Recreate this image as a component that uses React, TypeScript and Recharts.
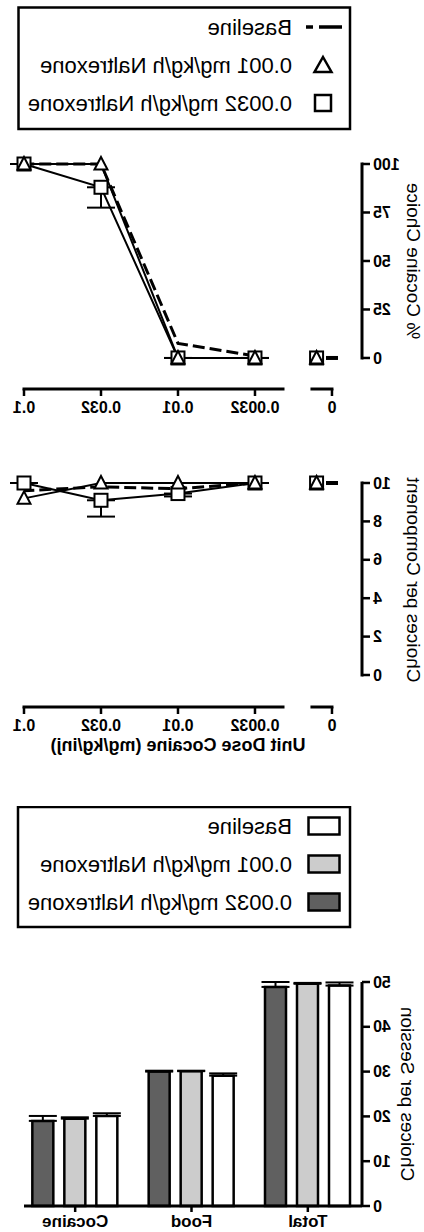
import React from 'react';
import { LineChart, Line, XAxis, YAxis, ReferenceLine, ErrorBar, BarChart, Bar } from 'recharts';

const FONT = '"Liberation Sans", Arial, Helvetica, sans-serif';

// ---------- data ----------
const doseLabels = ['0', '0.0032', '0.01', '0.032', '0.1'];
const seriesNames = ['Baseline', '0.001 mg/kg/h Naltrexone', '0.0032 mg/kg/h Naltrexone'];

// % Cocaine Choice
const pctBaseline = [0, 1, 7.5, 100, 100];
const pctNal001 = [0, 0, 0, 100, 100];
const pctNal0032 = [0, 0, 0, 88, 100];
const pctNal0032Err = [0, 0, 0, 10.5, 0];
const pctTicks = [0, 25, 50, 75, 100];

// Choices per Component
const cpcBaseline = [10, 10, 9.7, 9.8, 9.6];
const cpcNal001 = [10, 10, 10, 10, 9.2];
const cpcNal0032 = [10, 10, 9.45, 9.1, 10];
const cpcNal0032Err = [0, 0, 0.15, 0.85, 0];
const cpcTicks = [0, 2, 4, 6, 8, 10];

// Choices per Session
const barCategories = ['Total', 'Food', 'Cocaine'];
const barBaseline = [49.2, 29.1, 20.1];
const barBaselineErr = [0.7, 0.5, 0.6];
const barNal001 = [49.6, 30.1, 19.5];
const barNal001Err = [0.2, 0.1, 0.3];
const barNal0032 = [48.9, 30.0, 19.0];
const barNal0032Err = [1.1, 0.2, 1.1];
const barTicks = [0, 10, 20, 30, 40, 50];

const barFills = ['#ffffff', '#cccccc', '#606060'];

// ---------- helpers ----------
const doseIndex = doseLabels.map((_, i) => i);
const ZERO_NUDGE = 0.2;

function zeroPoint(values: number[], shift: number, errs?: number[]) {
  return [{ x: doseIndex[0] + shift, y: values[0], e: [errs ? errs[0] : 0, 0] }];
}
function restPoints(values: number[], errs?: number[]) {
  return values.slice(1).map((v, k) => ({ x: doseIndex[k + 1], y: v, e: [errs ? errs[k + 1] : 0, 0] }));
}

const SquareDot = (props: any) => {
  const { cx, cy, index } = props;
  if (cx == null || cy == null) return <g key={index} />;
  const s = 13;
  return <rect key={index} x={cx - s / 2} y={cy - s / 2} width={s} height={s} fill="#fff" stroke="#000" strokeWidth={2} />;
};
const TriangleDot = (props: any) => {
  const { cx, cy, index } = props;
  if (cx == null || cy == null) return <g key={index} />;
  const w = 13;
  const pts = `${cx},${cy - 7} ${cx - w / 2},${cy + 5.5} ${cx + w / 2},${cy + 5.5}`;
  return <polygon key={index} points={pts} fill="#fff" stroke="#000" strokeWidth={2} strokeLinejoin="miter" />;
};
const DashDot = (props: any) => {
  const { cx, cy, index } = props;
  if (cx == null || cy == null) return <g key={index} />;
  return <line key={index} x1={cx - 6} x2={cx + 6} y1={cy} y2={cy} stroke="#000" strokeWidth={4} />;
};

const X_MIN = -0.39;
const X_MAX = 4;
const BREAK_A = 0.26;
const BREAK_B = 0.636;

type DoseProps = {
  top: number;
  height: number;
  margin: any;
  xAxisHeight: number;
  yDomain: [number, number];
  yMax: number;
  yTicks: number[];
  yLabel: string;
  yLabelDy: number;
  base: number[];
  tri: number[];
  sq: number[];
  sqErr: number[];
  title?: string;
  titleOffset?: number;
};

function DoseChart(p: DoseProps) {
  const tickStyle = { fill: '#000', fontSize: 16, fontWeight: 700, fontFamily: FONT };
  const axisStroke = { stroke: '#000', strokeWidth: 3, strokeLinecap: 'square' as const };
  const yMin = p.yDomain[0];
  return (
    <div style={{ position: 'absolute', left: 0, top: p.top }}>
      <LineChart width={424} height={p.height} margin={p.margin}>
        <XAxis
          type="number"
          dataKey="x"
          domain={[X_MIN, X_MAX]}
          ticks={doseIndex}
          interval={0}
          tickFormatter={(v: number) => doseLabels[v] ?? ''}
          axisLine={false}
          tickLine={{ stroke: '#000', strokeWidth: 2.5 }}
          tickSize={7}
          tickMargin={6}
          height={p.xAxisHeight}
          tick={tickStyle}
          label={
            p.title
              ? {
                  value: p.title,
                  position: 'insideBottom',
                  offset: p.titleOffset,
                  dx: 15,
                  style: { fill: '#000', fontSize: 18, fontWeight: 700, fontFamily: FONT },
                }
              : undefined
          }
        />
        <YAxis
          type="number"
          domain={p.yDomain}
          ticks={p.yTicks}
          interval={0}
          axisLine={false}
          tickLine={{ stroke: '#000', strokeWidth: 2.5 }}
          tickSize={8}
          tickMargin={3}
          width={62}
          tick={tickStyle}
          label={{
            value: p.yLabel,
            angle: -90,
            position: 'insideLeft',
            offset: 10,
            dy: p.yLabelDy,
            style: { textAnchor: 'middle', fill: '#000', fontSize: 19, fontFamily: FONT },
          }}
        />
        <ReferenceLine segment={[{ x: X_MIN, y: 0 }, { x: X_MIN, y: p.yMax }]} ifOverflow="visible" {...axisStroke} />
        <ReferenceLine segment={[{ x: 0, y: yMin }, { x: BREAK_A, y: yMin }]} ifOverflow="visible" {...axisStroke} />
        <ReferenceLine segment={[{ x: BREAK_B, y: yMin }, { x: X_MAX, y: yMin }]} ifOverflow="visible" {...axisStroke} />

        <Line data={restPoints(p.base)} dataKey="y" name={seriesNames[0]} stroke="#000" strokeWidth={3} strokeDasharray="12 5" dot={false} activeDot={false} isAnimationActive={false} />
        <Line data={zeroPoint(p.base, 0)} dataKey="y" name={seriesNames[0] + ' 0'} stroke="none" dot={DashDot} activeDot={false} isAnimationActive={false} />

        <Line data={restPoints(p.sq, p.sqErr)} dataKey="y" name={seriesNames[2]} stroke="#000" strokeWidth={2} dot={SquareDot} activeDot={false} isAnimationActive={false}>
          <ErrorBar dataKey="e" direction="y" width={14} stroke="#000" strokeWidth={2} />
        </Line>
        <Line data={zeroPoint(p.sq, ZERO_NUDGE, p.sqErr)} dataKey="y" name={seriesNames[2] + ' 0'} stroke="none" dot={SquareDot} activeDot={false} isAnimationActive={false} />

        <Line data={restPoints(p.tri)} dataKey="y" name={seriesNames[1]} stroke="#000" strokeWidth={2} dot={TriangleDot} activeDot={false} isAnimationActive={false} />
        <Line data={zeroPoint(p.tri, ZERO_NUDGE)} dataKey="y" name={seriesNames[1] + ' 0'} stroke="none" dot={TriangleDot} activeDot={false} isAnimationActive={false} />
      </LineChart>
    </div>
  );
}

function LineLegend({ top }: { top: number }) {
  const rows = [27, 65, 103];
  return (
    <svg width={424} height={140} style={{ position: 'absolute', left: 0, top }}>
      <rect x={74} y={7.5} width={331.5} height={121.5} fill="#fff" stroke="#000" strokeWidth={2.5} />
      <line x1={82} x2={118} y1={rows[0]} y2={rows[0]} stroke="#000" strokeWidth={3.5} strokeDasharray="23 6 7 40" />
      <polygon points={`101,${rows[1] - 8} 92.5,${rows[1] + 7} 109.5,${rows[1] + 7}`} fill="#fff" stroke="#000" strokeWidth={2.5} />
      <rect x={93} y={rows[2] - 8} width={16} height={16} fill="#fff" stroke="#000" strokeWidth={2.5} />
      {seriesNames.map((n, i) => (
        <text key={n} x={132} y={rows[i]} dominantBaseline="central" fontSize={22} fontFamily={FONT} fill="#000">
          {n}
        </text>
      ))}
    </svg>
  );
}

function BarLegend({ top }: { top: number }) {
  const rows = [20, 58, 96];
  return (
    <svg width={424} height={125} style={{ position: 'absolute', left: 0, top }}>
      <rect x={74} y={1} width={332} height={120} fill="#fff" stroke="#000" strokeWidth={2.5} />
      {seriesNames.map((n, i) => (
        <g key={n}>
          <rect x={84.5} y={rows[i] - 8.5} width={31} height={17} fill={barFills[i]} stroke="#000" strokeWidth={2.5} />
          <text x={132} y={rows[i]} dominantBaseline="central" fontSize={22} fontFamily={FONT} fill="#000">
            {n}
          </text>
        </g>
      ))}
    </svg>
  );
}

const barData = barCategories.map((c, i) => ({
  cat: c,
  b: barBaseline[i],
  bE: [0, barBaselineErr[i]],
  n1: barNal001[i],
  n1E: [0, barNal001Err[i]],
  n2: barNal0032[i],
  n2E: [0, barNal0032Err[i]],
}));

function SessionBars({ top }: { top: number }) {
  const tickStyle = { fill: '#000', fontSize: 16, fontWeight: 700, fontFamily: FONT };
  return (
    <div style={{ position: 'absolute', left: 0, top }}>
      <BarChart width={424} height={292} data={barData} margin={{ top: 42, right: 24, bottom: 0, left: 0 }} barSize={21} barGap={11}>
        <XAxis
          dataKey="cat"
          axisLine={{ stroke: '#000', strokeWidth: 3 }}
          tickLine={{ stroke: '#000', strokeWidth: 2.5 }}
          tickSize={6}
          tickMargin={3}
          height={26}
          interval={0}
          padding={{ left: -4, right: -7 }}
          tick={{ fill: '#000', fontSize: 17, fontWeight: 700, fontFamily: FONT }}
        />
        <YAxis
          type="number"
          domain={[0, 50]}
          ticks={barTicks}
          interval={0}
          axisLine={{ stroke: '#000', strokeWidth: 3 }}
          tickLine={{ stroke: '#000', strokeWidth: 2.5 }}
          tickSize={8}
          tickMargin={3}
          width={62}
          tick={tickStyle}
          label={{
            value: 'Choices per Session',
            angle: -90,
            position: 'insideLeft',
            offset: 16,
            style: { textAnchor: 'middle', fill: '#000', fontSize: 19, fontFamily: FONT },
          }}
        />
        <Bar dataKey="b" name={seriesNames[0]} fill={barFills[0]} stroke="#000" strokeWidth={2.5} isAnimationActive={false}>
          <ErrorBar dataKey="bE" direction="y" width={14} stroke="#000" strokeWidth={2} />
        </Bar>
        <Bar dataKey="n1" name={seriesNames[1]} fill={barFills[1]} stroke="#000" strokeWidth={2.5} isAnimationActive={false}>
          <ErrorBar dataKey="n1E" direction="y" width={14} stroke="#000" strokeWidth={2} />
        </Bar>
        <Bar dataKey="n2" name={seriesNames[2]} fill={barFills[2]} stroke="#000" strokeWidth={2.5} isAnimationActive={false}>
          <ErrorBar dataKey="n2E" direction="y" width={14} stroke="#000" strokeWidth={2} />
        </Bar>
      </BarChart>
    </div>
  );
}

export default function App() {
  return (
    <div
      style={{
        position: 'absolute',
        left: 0,
        top: 0,
        width: 424,
        height: 1232,
        background: '#fff',
        overflow: 'hidden',
        transform: 'scaleX(-1)',
        fontFamily: FONT,
      }}
    >
      <LineLegend top={0} />
      <DoseChart
        top={140}
        height={300}
        margin={{ top: 24, right: 24, bottom: 11, left: 0 }}
        xAxisHeight={40}
        yDomain={[-16, 100]}
        yMax={100}
        yTicks={pctTicks}
        yLabel="% Cocaine Choice"
        yLabelDy={-15.5}
        base={pctBaseline}
        tri={pctNal001}
        sq={pctNal0032}
        sqErr={pctNal0032Err}
      />
      <DoseChart
        top={440}
        height={330}
        margin={{ top: 43, right: 24, bottom: 8, left: 0 }}
        xAxisHeight={55}
        yDomain={[-1.667, 10]}
        yMax={10}
        yTicks={cpcTicks}
        yLabel="Choices per Component"
        yLabelDy={-15}
        base={cpcBaseline}
        tri={cpcNal001}
        sq={cpcNal0032}
        sqErr={cpcNal0032Err}
        title="Unit Dose Cocaine (mg/kg/inj)"
        titleOffset={11}
      />
      <BarLegend top={806} />
      <SessionBars top={940} />
    </div>
  );
}
